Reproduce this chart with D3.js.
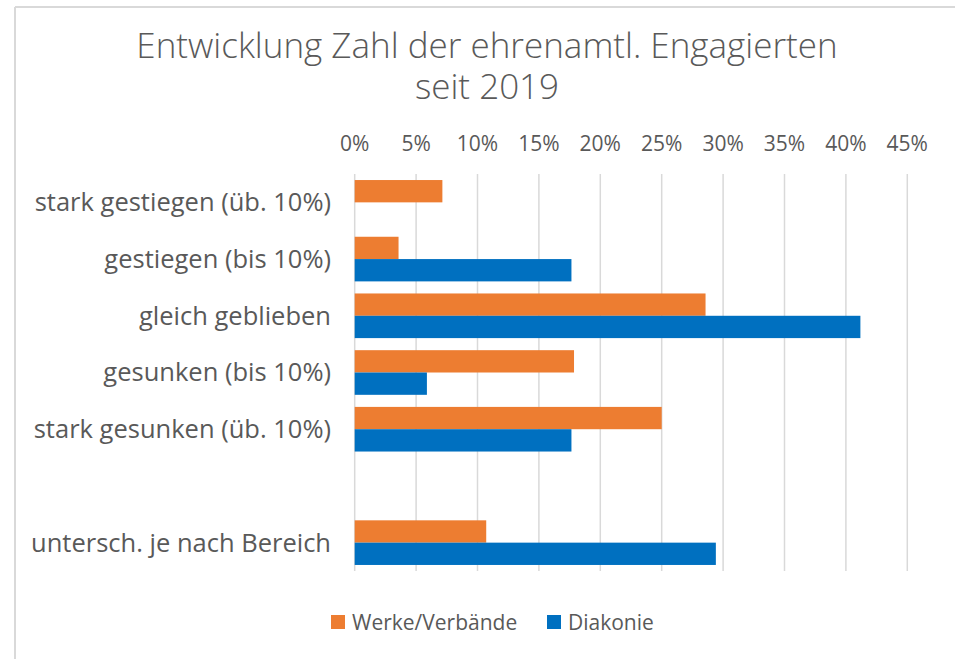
<!DOCTYPE html>
<html>
<head>
<meta charset="utf-8">
<script src="https://cdn.jsdelivr.net/npm/d3@7"></script>
<style>
  body { margin: 0; background: #fff; }
  svg { display: block; }
</style>
</head>
<body>
<svg id="chart" width="955" height="659"></svg>
<script>
// categories top to bottom, "" is the empty slot in the original chart
const categories = [
  "stark gestiegen (üb. 10%)",
  "gestiegen (bis 10%)",
  "gleich geblieben",
  "gesunken (bis 10%)",
  "stark gesunken (üb. 10%)",
  "",
  "untersch. je nach Bereich"
];
const seriesNames = ["Werke/Verbände", "Diakonie"];
const werkeValues = [7.14, 3.57, 28.57, 17.86, 25.0, null, 10.71];
const diakonieValues = [0, 17.65, 41.18, 5.88, 17.65, null, 29.41];
const xTicks = [0, 5, 10, 15, 20, 25, 30, 35, 40, 45];
const colors = ["#ED7D31", "#0070C0"];

const svg = d3.select("#chart");
const textColor = "#595959";

// frame (only top and left edges are visible in the crop)
svg.append("line").attr("x1", 15).attr("x2", 955).attr("y1", 7).attr("y2", 7)
  .attr("stroke", "#d9d9d9").attr("stroke-width", 2);
svg.append("line").attr("x1", 15).attr("x2", 15).attr("y1", 7).attr("y2", 659)
  .attr("stroke", "#d9d9d9").attr("stroke-width", 2);

// title, two lines
const titleLines = ["Entwicklung Zahl der ehrenamtl. Engagierten", "seit 2019"];
svg.append("g")
  .selectAll("text")
  .data(titleLines)
  .enter().append("text")
    .attr("x", 487)
    .attr("y", (d, i) => 58 + i * 41)
    .attr("text-anchor", "middle")
    .attr("font-family", "Open Sans")
    .attr("font-weight", 300)
    .attr("font-size", 35)
    .attr("fill", textColor)
    .text(d => d);

const x = d3.scaleLinear().domain([0, 45]).range([354.7, 907.3]);
const y = d3.scaleBand().domain(d3.range(categories.length))
  .range([174, 571]).paddingInner(0.213).paddingOuter(0.1065);
const ySub = d3.scaleBand().domain([0, 1]).range([0, y.bandwidth()]);

// gridlines
svg.append("g")
  .selectAll("line")
  .data(xTicks)
  .enter().append("line")
    .attr("x1", d => x(d)).attr("x2", d => x(d))
    .attr("y1", 174).attr("y2", 571)
    .attr("stroke", "#d9d9d9")
    .attr("stroke-width", 1.5);

// top axis labels
svg.append("g")
  .selectAll("text")
  .data(xTicks)
  .enter().append("text")
    .attr("x", d => x(d))
    .attr("y", 151)
    .attr("text-anchor", "middle")
    .attr("font-family", "Open Sans")
    .attr("font-size", 21)
    .attr("fill", textColor)
    .text(d => d + "%");

// category labels
svg.append("g")
  .selectAll("text")
  .data(categories)
  .enter().append("text")
    .attr("x", 331)
    .attr("y", (d, i) => y(i) + y.bandwidth() / 2)
    .attr("dy", "0.35em")
    .attr("text-anchor", "end")
    .attr("font-family", "Open Sans")
    .attr("font-size", 25.5)
    .attr("fill", textColor)
    .text(d => d);

// bars
const series = [werkeValues, diakonieValues];
series.forEach((vals, s) => {
  svg.append("g")
    .selectAll("rect")
    .data(vals.map((v, i) => ({ v, i })).filter(d => d.v))
    .enter().append("rect")
      .attr("x", x(0))
      .attr("y", d => y(d.i) + ySub(s))
      .attr("width", d => x(d.v) - x(0))
      .attr("height", ySub.bandwidth())
      .attr("fill", colors[s]);
});

// legend
const legendX = [331, 547];
const legend = svg.append("g")
  .selectAll("g")
  .data(seriesNames)
  .enter().append("g")
    .attr("transform", (d, i) => `translate(${legendX[i]},615)`);
legend.append("rect")
  .attr("width", 14).attr("height", 14)
  .attr("fill", (d, i) => colors[i]);
legend.append("text")
  .attr("x", 21).attr("y", 15)
  .attr("font-family", "Open Sans")
  .attr("font-size", 21)
  .attr("fill", textColor)
  .text(d => d);
</script>
</body>
</html>
